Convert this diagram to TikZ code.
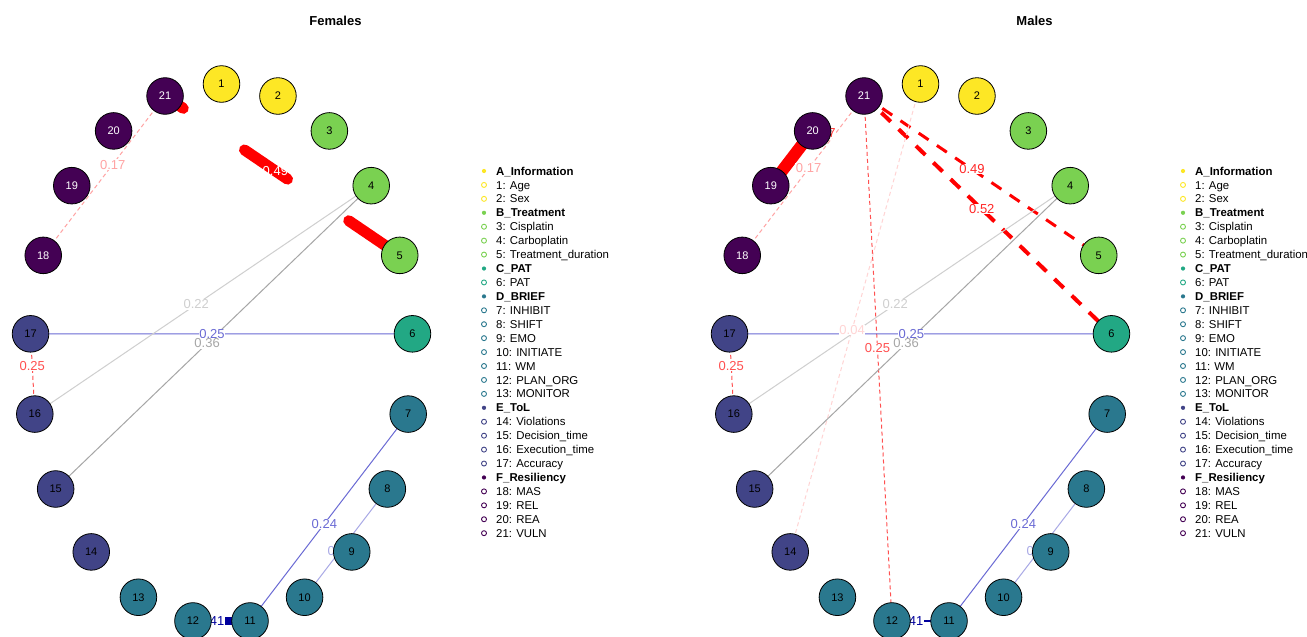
\documentclass[tikz,border=0pt]{standalone}
\usepackage{fontspec}
\setmainfont{Liberation Sans}
\usetikzlibrary{backgrounds}

\definecolor{grpA}{HTML}{FDE725}
\definecolor{grpB}{HTML}{7AD151}
\definecolor{grpC}{HTML}{22A884}
\definecolor{grpD}{HTML}{2A788E}
\definecolor{grpE}{HTML}{414487}
\definecolor{grpF}{HTML}{440154}
\definecolor{posBlue}{HTML}{6A6AD4}
\definecolor{posBlueL}{HTML}{A9A9E6}
\definecolor{posNavy}{HTML}{00009C}
\definecolor{negRed}{HTML}{FF5050}
\definecolor{negPink}{HTML}{FFA3A3}
\definecolor{negFaint}{HTML}{FFD4D4}
\definecolor{grayL}{HTML}{CFCFCF}
\definecolor{grayD}{HTML}{A6A6A6}

\begin{document}
\begin{tikzpicture}[x=1pt, y=-1pt,
        vnode/.style={circle, draw=black, line width=0.8pt, minimum size=36.6pt, inner sep=0pt, font=\fontsize{11}{11}\selectfont},
        elab/.style={fill=white, inner sep=0.5pt, font=\fontsize{13}{13}\selectfont},
        ptitle/.style={font=\bfseries\fontsize{13}{13}\selectfont},
        legtext/.style={anchor=west, inner sep=0pt, text height=8.2pt, text depth=0pt, font=\fontsize{11.4}{11.4}\selectfont},
        leghtext/.style={legtext, font=\bfseries\fontsize{11.4}{11.4}\selectfont},
        leghead/.style={circle, fill=#1, inner sep=0pt, minimum size=4.2pt},
        legitem/.style={circle, draw=#1, line width=0.9pt, inner sep=0pt, minimum size=5pt},
        thinedge/.style={line width=1pt},
        negedge/.style={line width=1pt, dash pattern=on 4pt off 3pt}
    ]
    \useasboundingbox (0,0) rectangle (1307,637);

    % Titles
    \node[ptitle] (tfem) at (335.5,21) {Females};
    \node[ptitle] (tmal) at (1034.5,21) {Males};

    % Define Nodes (21 variables on an ellipse, one ring per panel)
    \foreach \p/\dx in {f/0, m/699}{
        \foreach \i/\c/\t in {1/grpA/black, 2/grpA/black, 3/grpB/black, 4/grpB/black, 5/grpB/black,
                6/grpC/black, 7/grpD/black, 8/grpD/black, 9/grpD/black, 10/grpD/black, 11/grpD/black,
                12/grpD/black, 13/grpD/black, 14/grpE/black, 15/grpE/black, 16/grpE/black, 17/grpE/black,
                18/grpF/white, 19/grpF/white, 20/grpF/white, 21/grpF/white}
            \node[vnode, fill=\c, text=\t] (\p\i) at ({221.5+\dx+191.5*cos(90-(\i-1)*360/21)}, {354-270*sin(90-(\i-1)*360/21)}) {\i};
    }

    \begin{scope}[on background layer]
        \fill[white] (0,0) rectangle (1307,637);

        % Females edges
        \draw[red, line width=11pt, line cap=round, dash pattern=on 52pt off 74pt, dash phase=30pt] (f21.center) -- (f5.center);
        \draw[negedge, negPink] (f21.center) -- (f18.center);
        \draw[thinedge, posBlue] (f17.center) -- (f6.center);
        \draw[negedge, negRed] (f17.center) -- (f16.center);
        \draw[thinedge, grayL] (f4.center) -- (f16.center);
        \draw[thinedge, grayD] (f4.center) -- (f15.center);
        \draw[thinedge, posBlue] (f7.center) -- (f11.center);
        \draw[thinedge, posBlueL] (f8.center) -- (f10.center);
        \draw[posNavy, line width=8pt] (f12.center) -- (f11.center);

        % Males edges
        \draw[red, line width=3pt, dash pattern=on 12pt off 10pt] (m21.center) -- (m5.center);
        \draw[red, line width=4pt, dash pattern=on 13pt off 11pt] (m21.center) -- (m6.center);
        \draw[red, line width=12pt] (m19.center) -- (m20.center);
        \draw[negedge, negPink] (m21.center) -- (m18.center);
        \draw[negedge, negRed] (m21.center) -- (m12.center);
        \draw[negedge, negFaint] (m1.center) -- (m14.center);
        \draw[thinedge, posBlue] (m17.center) -- (m6.center);
        \draw[negedge, negRed] (m17.center) -- (m16.center);
        \draw[thinedge, grayL] (m4.center) -- (m16.center);
        \draw[thinedge, grayD] (m4.center) -- (m15.center);
        \draw[thinedge, posBlue] (m7.center) -- (m11.center);
        \draw[thinedge, posBlueL] (m8.center) -- (m10.center);
        \draw[posNavy, line width=2pt] (m12.center) -- (m11.center);

        % Edge labels (on top of edges, under the nodes)
        \path (f21.center) -- node[pos=0.47, elab, fill=none, text=white] (lf215) {0.49} (f5.center);
        \path (f21.center) -- node[pos=0.43, elab, text=negPink] (lf2118) {0.17} (f18.center);
        \path (f17.center) -- node[pos=0.475, elab, text=posBlue] (lf176) {0.25} (f6.center);
        \path (f17.center) -- node[pos=0.4, elab, text=negRed] (lf1716) {0.25} (f16.center);
        \path (f4.center) -- node[pos=0.52, elab, text=grayL] (lf416) {0.22} (f16.center);
        \path (f4.center) -- node[pos=0.52, elab, text=grayD] (lf415) {0.36} (f15.center);
        \path (f7.center) -- node[pos=0.53, elab, text=posBlue] (lf711) {0.24} (f11.center);
        \path (f8.center) -- node[pos=0.57, elab, text=posBlueL] (lf810) {0.15} (f10.center);
        \path (f12.center) -- node[pos=0.33, elab, text=posNavy] (lf1211) {0.41} (f11.center);

        \path (m21.center) -- node[pos=0.46, elab, text=red!85] (lm215) {0.49} (m5.center);
        \path (m21.center) -- node[pos=0.476, elab, text=red!85] (lm216) {0.52} (m6.center);
        \path (m21.center) -- node[pos=0.455, elab, text=negPink] (lm2118) {0.17} (m18.center);
        \path (m21.center) -- node[pos=0.48, elab, text=negRed] (lm2112) {0.25} (m12.center);
        \path (m1.center) -- node[pos=0.525, elab, text=negFaint] (lm114) {0.04} (m14.center);
        \path (m17.center) -- node[pos=0.476, elab, text=posBlue] (lm176) {0.25} (m6.center);
        \path (m17.center) -- node[pos=0.4, elab, text=negRed] (lm1716) {0.25} (m16.center);
        \path (m4.center) -- node[pos=0.52, elab, text=grayL] (lm416) {0.22} (m16.center);
        \path (m4.center) -- node[pos=0.52, elab, text=grayD] (lm415) {0.36} (m15.center);
        \path (m7.center) -- node[pos=0.53, elab, text=posBlue] (lm711) {0.24} (m11.center);
        \path (m8.center) -- node[pos=0.57, elab, text=posBlueL] (lm810) {0.15} (m10.center);
        \path (m12.center) -- node[pos=0.33, elab, text=posNavy] (lm1211) {0.41} (m11.center);
        \node[elab, text=red!80] (lm1920) at (823,133) {0.67};
    \end{scope}

    % Legends
    \foreach \dx in {0, 699}{
        \foreach \r/\c/\t in {0/grpA/A\_Information, 3/grpB/B\_Treatment, 7/grpC/C\_PAT,
                9/grpD/D\_BRIEF, 17/grpE/E\_ToL, 22/grpF/F\_Resiliency}{
            \node[leghead=\c] (lh\r-\dx) at (484+\dx, 171+\r*13.93) {};
            \node[leghtext] (lht\r-\dx) at (496+\dx, 171+\r*13.93) {\t};
        }
        \foreach \r/\c/\t in {1/grpA/{1: Age}, 2/grpA/{2: Sex}, 4/grpB/{3: Cisplatin}, 5/grpB/{4: Carboplatin},
                6/grpB/{5: Treatment\_duration}, 8/grpC/{6: PAT}, 10/grpD/{7: INHIBIT}, 11/grpD/{8: SHIFT},
                12/grpD/{9: EMO}, 13/grpD/{10: INITIATE}, 14/grpD/{11: WM}, 15/grpD/{12: PLAN\_ORG},
                16/grpD/{13: MONITOR}, 18/grpE/{14: Violations}, 19/grpE/{15: Decision\_time},
                20/grpE/{16: Execution\_time}, 21/grpE/{17: Accuracy}, 23/grpF/{18: MAS},
                24/grpF/{19: REL}, 25/grpF/{20: REA}, 26/grpF/{21: VULN}}{
            \node[legitem=\c] (li\r-\dx) at (484+\dx, 171+\r*13.93) {};
            \node[legtext] (lit\r-\dx) at (496+\dx, 171+\r*13.93) {\t};
        }
    }
\end{tikzpicture}
\end{document}
